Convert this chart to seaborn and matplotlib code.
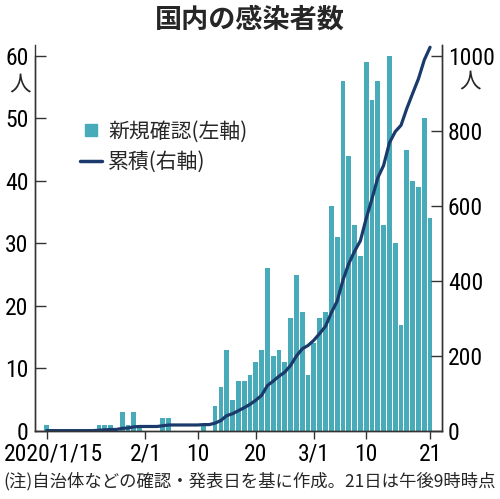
import pandas as pd
import matplotlib.pyplot as plt
import seaborn as sns
from matplotlib.lines import Line2D
from matplotlib import font_manager
from matplotlib.transforms import ScaledTranslation

# 日別の新規確認数 (2020/1/15 - 3/21)
dates = pd.date_range("2020-01-15", "2020-03-21", freq="D")
new_cases = [1, 0, 0, 0, 0, 0, 0, 0, 0, 1, 1, 1, 0, 3, 1, 3, 1,
             0, 0, 0, 2, 2, 0, 0, 0, 0, 0, 1, 0, 4, 7, 13, 5, 8, 8, 9,
             11, 13, 26, 12, 13, 11, 18, 25, 19, 9,
             14, 18, 19, 36, 31, 56, 44, 33, 28, 59, 53, 56, 33, 60, 30,
             17, 45, 40, 39, 50, 34]
cumulative = [1, 1, 1, 1, 1, 1, 1, 1, 1, 2, 3, 4, 4, 7, 8, 11, 12,
              12, 12, 12, 14, 16, 16, 16, 16, 16, 16, 17, 17, 21, 28, 41, 46, 54, 62, 71,
              82, 95, 121, 133, 146, 157, 175, 200, 219, 228,
              242, 260, 279, 315, 346, 402, 446, 479, 507, 566, 619, 675, 708, 768, 798,
              815, 860, 900, 939, 989, 1023]
tick_days = [0, 17, 26, 36, 46, 55, 66]
tick_labels = ["2020/1/15", "2/1", "10", "20", "3/1", "10", "21"]
left_ticks = [0, 10, 20, 30, 40, 50, 60]
right_ticks = [0, 200, 400, 600, 800, 1000]

df = pd.DataFrame({"day": range(len(dates)), "new": new_cases, "cum": cumulative})

sns.set_style("ticks")
plt.rcParams["font.family"] = ["Noto Sans CJK JP", "DejaVu Sans"]

# 数字は細めの書体があれば使う
installed = {f.name for f in font_manager.fontManager.ttflist}
num_font = "Noto Sans CJK JP"
num_size = 14.5
for cand, size in [("Liberation Sans Narrow", 17), ("Roboto Condensed", 17),
                   ("DejaVu Sans Condensed", 15.5), ("Open Sans Condensed", 17)]:
    if cand in installed:
        num_font, num_size = cand, size
        break

bar_color = "#47abb9"
line_color = "#1b3a6b"
spine_color = "#333333"

fig = plt.figure(figsize=(5.0, 4.99), dpi=100)
ax = fig.add_axes([0.07, 0.1363, 0.8134, 0.7735])

sns.barplot(data=df, x="day", y="new", native_scale=True, color=bar_color,
            width=0.82, saturation=1, edgecolor="none", ax=ax)
ax2 = ax.twinx()
sns.lineplot(data=df, x="day", y="cum", color=line_color, linewidth=2.3, ax=ax2)

ax.set_xlim(-2, 68)
ax.set_ylim(0, 61.75)
ax2.set_ylim(0, 1029)

ax.set_xticks(tick_days)
ax.set_xticklabels(tick_labels, fontsize=num_size, fontfamily=num_font)
ax.set_yticks(left_ticks)
ax.set_yticklabels([str(v) for v in left_ticks], fontsize=num_size, fontfamily=num_font)
ax2.set_yticks(right_ticks)
ax2.set_yticklabels([str(v) for v in right_ticks], fontsize=num_size, fontfamily=num_font)
ax.set_xlabel("")
ax.set_ylabel("")
ax2.set_xlabel("")
ax2.set_ylabel("")

ax.tick_params(axis="y", direction="in", length=8, width=1, pad=4.5, colors=spine_color, labelcolor="black")
ax.tick_params(axis="x", direction="out", length=6, width=1, pad=2.5, colors=spine_color, labelcolor="black")
ax2.tick_params(axis="y", direction="in", length=8, width=1, pad=4.5, colors=spine_color, labelcolor="black")

# 先頭の日付ラベルは少し右へ
first = ax.get_xticklabels()[0]
first.set_transform(first.get_transform() + ScaledTranslation(0.07, 0, fig.dpi_scale_trans))

for a in (ax, ax2):
    a.spines["top"].set_visible(False)
    for s in ("left", "right", "bottom"):
        a.spines[s].set_color(spine_color)
        a.spines[s].set_linewidth(1)
ax.spines["left"].set_bounds(0, 60)

fig.text(0.5, 0.96, "国内の感染者数", ha="center", va="center", fontsize=19.5, fontweight="bold")
fig.text(0.04, 0.83, "人", ha="center", va="center", fontsize=15.5)
fig.text(0.94, 0.836, "人", ha="center", va="center", fontsize=15.5)
fig.text(0.006, 0.036, "(注)自治体などの確認・発表日を基に作成。21日は午後9時時点",
         ha="left", va="center", fontsize=12.5)

handles = [Line2D([], [], marker="s", linestyle="none", color=bar_color, markersize=8),
           Line2D([], [], color=line_color, linewidth=2.5)]
ax2.legend(handles, ["新規確認(左軸)", "累積(右軸)"], loc="upper left",
           bbox_to_anchor=(0.16, 0.758), bbox_transform=fig.transFigure,
           frameon=False, fontsize=15, handlelength=1.05, handletextpad=0.3,
           borderpad=0, borderaxespad=0, labelspacing=0.4)

fig.savefig("out.png", dpi=100)
